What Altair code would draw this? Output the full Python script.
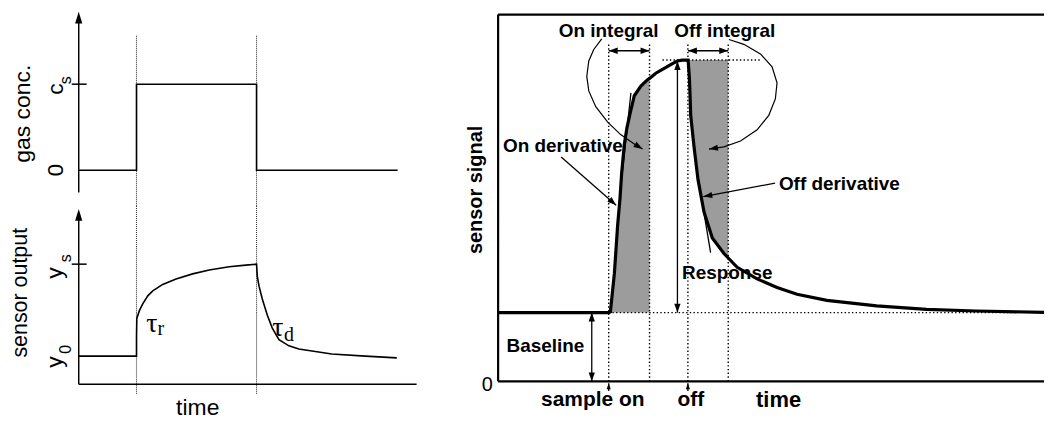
import math
import altair as alt
import pandas as pd

# ---------------- left schematic: gas concentration (c_s = 1) ----------------
conc_t = [0.0, 0.975, 0.975, 3.0, 3.0, 5.38]
conc_c = [0.0, 0.0, 1.0, 1.0, 0.0, 0.0]

# ---------------- left schematic: sensor output (y_s = 1, y_0 = 0.234) -------
out_t = [0.0, 0.975, 0.975, 0.98, 1.025, 1.08, 1.165, 1.249, 1.417, 1.642, 1.921,
         2.202, 2.538, 2.818, 3.0, 3.013, 3.042, 3.097, 3.182, 3.266, 3.378,
         3.546, 3.714, 4.269, 4.835, 5.366]
out_o = [0.234, 0.234, 0.40, 0.548, 0.615, 0.669, 0.736, 0.777, 0.831, 0.877, 0.919,
         0.952, 0.978, 0.992, 1.0, 0.898, 0.817, 0.710, 0.575, 0.468, 0.371,
         0.320, 0.293, 0.252, 0.234, 0.220]
L_ON, L_OFF = 0.975, 3.0

# ---------------- right: sensor signal ----------------
sig_t = [0, 11.1, 11.27, 11.67, 12.0, 12.23, 12.4, 12.67, 12.93, 13.27,
         13.67, 14.33, 15.0, 15.2, 15.83, 16.67, 17.5, 18.0, 18.5, 19.07,
         19.2, 19.27, 19.33, 19.67, 20.07, 20.67, 21.5, 22.67, 23.1, 24.0,
         26.0, 28.0, 30.0, 33.0, 38.0, 43.0, 48.0, 54.8]
sig_s = [2.14, 2.14, 2.16, 3.36, 4.87, 5.67, 6.48, 7.38, 7.89, 8.37,
         8.89, 9.19, 9.39, 9.43, 9.59, 9.74, 9.89, 9.97, 10.0, 10.0,
         9.45, 8.89, 8.28, 7.29, 6.27, 5.27, 4.46, 3.98, 3.84, 3.55,
         3.19, 2.92, 2.71, 2.52, 2.35, 2.24, 2.19, 2.15]
BASE, PEAK = 2.14, 10.0
T_ON, T_ON_END, T_OFF, T_OFF_END = 11.1, 15.2, 19.05, 23.1
T_RESP, T_BASEARR = 18.0, 9.4
Y_INT_ARROW, Y_DOT_TOP, Y_FRAME_TOP, T_END = 10.29, 10.49, 11.416, 54.8

on_loop_t = [10.4, 9.6, 9.1, 8.9, 9.1, 9.8, 11.0, 12.3, 13.7, 14.5]
on_loop_s = [10.66, 10.33, 9.97, 9.49, 9.04, 8.55, 8.07, 7.68, 7.38, 7.23]
off_loop_t = [23.17, 24.67, 26.33, 27.5, 28.0, 27.83, 27.17, 26.0, 24.33, 22.67, 21.17]
off_loop_s = [10.64, 10.49, 10.19, 9.79, 9.29, 8.79, 8.28, 7.83, 7.48, 7.30, 7.23]
on_tangent = (13.33, 8.98, 12.1, 5.42)
off_tangent = (20.0, 6.48, 21.33, 4.01)
on_deriv_arrow = (6.33, 6.98, 11.85, 5.48)
off_deriv_arrow = (27.8, 6.17, 20.6, 5.75)

ARROW = "M0,0L0.35,1L-0.35,1Z"
ARROW_AX = "M0,0L0.3,1L-0.3,1Z"
SANS = "Liberation Sans"
SERIF = "Liberation Serif"


class Panel:
    def __init__(self, xd, yd, w, h):
        self.sx = alt.Scale(domain=list(xd), nice=False, zero=False)
        self.sy = alt.Scale(domain=list(yd), nice=False, zero=False)
        self.px = w / (xd[1] - xd[0])
        self.py = h / (yd[1] - yd[0])
        self.w, self.h = w, h
        self.layers = []

    def enc(self):
        return dict(x=alt.X("t:Q", scale=self.sx, axis=None),
                    y=alt.Y("v:Q", scale=self.sy, axis=None))

    def path(self, ts, vs, **style):
        df = pd.DataFrame({"t": ts, "v": vs, "i": list(range(len(ts)))})
        self.layers.append(alt.Chart(df).mark_line(**style).encode(order="i:Q", **self.enc()))

    def rules(self, segs, **style):
        df = pd.DataFrame(segs, columns=["t", "v", "t2", "v2"])
        self.layers.append(alt.Chart(df).mark_rule(**style).encode(x2="t2", y2="v2", **self.enc()))

    def area(self, df, **style):
        self.layers.append(alt.Chart(df).mark_area(**style).encode(y2="v2", **self.enc()))

    def angle(self, dt, dv):
        return math.degrees(math.atan2(dt * self.px, dv * self.py)) % 360

    def heads(self, tips, length, shape=ARROW):
        rows = [{"t": t, "v": v, "a": self.angle(dt, dv)} for t, v, dt, dv in tips]
        self.layers.append(
            alt.Chart(pd.DataFrame(rows)).mark_point(
                shape=shape, filled=True, size=(2 * length) ** 2, color="black",
                opacity=1, strokeWidth=0
            ).encode(angle=alt.Angle("a:Q", scale=None), **self.enc()))

    def texts(self, labels, **style):
        df = pd.DataFrame(labels, columns=["t", "v", "label"])
        st = dict(align="center", baseline="middle", color="black")
        st.update(style)
        self.layers.append(alt.Chart(df).mark_text(**st).encode(text="label:N", **self.enc()))

    def chart(self):
        return alt.layer(*self.layers).properties(width=self.w, height=self.h)


# ---------------- top-left panel: gas conc. ----------------
top = Panel((-1.193, 6.067), (-0.416, 1.876), 432, 198)
top.rules([(L_ON, 1.562, L_ON, -0.416), (L_OFF, 1.562, L_OFF, -0.416)],
          color="#333", strokeWidth=1.1, strokeDash=[1, 1])
top.rules([(0, -0.258, 0, 1.78), (-0.118, 1.0, 0.134, 1.0)], color="black", strokeWidth=1.5)
top.heads([(0, 1.843, 0, 1)], 12, ARROW_AX)
top.path(conc_t, conc_c, color="black", strokeWidth=1.6)
top.texts([(-0.933, 0.657, "gas conc.")], font=SANS, fontSize=23, angle=270)
top.texts([(-0.387, 0.944, "c"), (-0.387, 0.0, "0")], font=SANS, fontSize=23, angle=270)
top.texts([(-0.215, 1.045, "s")], font=SANS, fontSize=16, angle=270)

# ---------------- bottom-left panel: sensor output ----------------
bot = Panel((-1.193, 6.067), (-0.258, 1.484), 432, 210)
bot.rules([(L_ON, 1.484, L_ON, -0.081), (L_OFF, 1.484, L_OFF, -0.081)],
          color="#333", strokeWidth=1.1, strokeDash=[1, 1])
bot.rules([(0, 0, 0, 1.40), (0, 0, 5.70, 0), (-0.118, 1.0, 0.134, 1.0)],
          color="black", strokeWidth=1.5)
bot.heads([(0, 1.46, 0, 1)], 12, ARROW_AX)
bot.path(out_t, out_o, color="black", strokeWidth=1.6)
bot.texts([(-0.975, 0.762, "sensor output")], font=SANS, fontSize=21.5, angle=270)
bot.texts([(-0.403, 0.927, "y"), (-0.403, 0.185, "y")], font=SANS, fontSize=23, angle=270)
bot.texts([(-0.215, 1.05, "s"), (-0.215, 0.290, "0")], font=SANS, fontSize=16, angle=270)
bot.texts([(2.008, -0.202, "time")], font=SANS, fontSize=23)
bot.texts([(1.235, 0.50, "τ"), (3.361, 0.472, "τ")], font=SERIF, fontSize=28)
bot.texts([(1.387, 0.464, "r"), (3.546, 0.409, "d")], font=SERIF, fontSize=20)

# ---------------- right panel: sensor signal ----------------
rp = Panel((-3.5, 54.8), (-1.054, 11.596), 583, 408)
sig = pd.DataFrame({"t": sig_t, "v": sig_s})
on_df = sig[(sig.t >= T_ON) & (sig.t <= T_ON_END)].assign(v2=BASE)
off_df = sig[(sig.t >= 19.07) & (sig.t <= T_OFF_END)].rename(columns={"v": "v2"}).assign(v=PEAK)
rp.area(on_df, color="#9c9c9c", opacity=1)
rp.area(off_df, color="#9c9c9c", opacity=1)
dots = dict(color="black", strokeWidth=1.4, strokeDash=[1.4, 2.3])
rp.rules([(t, 0, t, Y_DOT_TOP) for t in (T_ON, T_ON_END, T_OFF, T_OFF_END)]
         + [(16.5, PEAK, 26.3, PEAK), (T_ON, BASE, T_END, BASE)], **dots)
rp.rules([(0, 0, 0, Y_FRAME_TOP), (0, Y_FRAME_TOP, T_END, Y_FRAME_TOP), (0, 0, T_END, 0)],
         color="black", strokeWidth=2.2)
rp.rules([(T_ON, Y_INT_ARROW, T_ON_END, Y_INT_ARROW), (T_OFF, Y_INT_ARROW, T_OFF_END, Y_INT_ARROW),
          (T_RESP, BASE, T_RESP, 9.97), (T_BASEARR, 0, T_BASEARR, BASE),
          (T_ON, -0.30, T_ON, -0.06), (T_OFF, -0.30, T_OFF, -0.06),
          on_deriv_arrow, off_deriv_arrow, on_tangent, off_tangent],
         color="black", strokeWidth=1.3)
rp.path(on_loop_t, on_loop_s, color="black", strokeWidth=1.2)
rp.path(off_loop_t, off_loop_s, color="black", strokeWidth=1.2)
rp.path(sig_t, sig_s, color="black", strokeWidth=3.2)


def tip(a):
    return (a[2], a[3], a[2] - a[0], a[3] - a[1])


def loop_tip(ts, ss):
    return (ts[-1], ss[-1], ts[-1] - ts[-2], ss[-1] - ss[-2])


rp.heads([(T_ON, Y_INT_ARROW, -1, 0), (T_ON_END, Y_INT_ARROW, 1, 0),
          (T_OFF, Y_INT_ARROW, -1, 0), (T_OFF_END, Y_INT_ARROW, 1, 0),
          (T_RESP, 9.97, 0, 1), (T_RESP, BASE, 0, -1),
          (T_BASEARR, BASE, 0, 1), (T_BASEARR, 0, 0, -1),
          tip(on_deriv_arrow), tip(off_deriv_arrow),
          loop_tip(on_loop_t, on_loop_s), loop_tip(off_loop_t, off_loop_s)], 9)
rp.heads([(T_ON, -0.06, 0, 1), (T_OFF, -0.06, 0, 1)], 6)

bold = dict(font=SANS, fontWeight="bold")
rp.texts([(11.1, 10.90, "On integral"), (22.75, 10.90, "Off integral"),
          (6.5, 7.33, "On derivative"), (34.25, 6.15, "Off derivative"),
          (23.0, 3.38, "Response"), (4.75, 1.10, "Baseline")], fontSize=19, **bold)
rp.texts([(9.5, -0.59, "sample on"), (19.35, -0.59, "off")], fontSize=21, **bold)
rp.texts([(28.15, -0.59, "time")], fontSize=22, **bold)
rp.texts([(-2.2, 5.96, "sensor signal")], fontSize=20, angle=270, **bold)
rp.texts([(-1.1, -0.12, "0")], font=SANS, fontSize=20)

left = alt.vconcat(top.chart(), bot.chart(), spacing=0, bounds="flush")
chart = alt.hconcat(left, rp.chart(), spacing=25).properties(
    padding=0).configure_view(strokeWidth=0)

chart.save("out.html", embed_options={"renderer": "svg", "actions": False})
